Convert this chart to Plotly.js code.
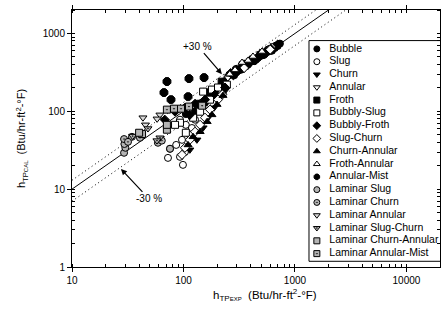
<!DOCTYPE html>
<html><head><meta charset="utf-8">
<script src="https://cdn.plot.ly/plotly-3.0.1.min.js"></script>
<style>html,body{margin:0;padding:0;background:#fff}#chart{width:441px;height:313px}</style>
</head><body><div id="chart"></div>
<script>
// ---- data ----
const seriesNames = ["Bubble","Slug","Churn","Annular","Froth","Bubbly-Slug","Bubbly-Froth","Slug-Churn","Churn-Annular","Froth-Annular","Annular-Mist","Laminar Slug","Laminar Churn","Laminar Annular","Laminar Slug-Churn","Laminar Churn-Annular","Laminar Annular-Mist"];

const bubbleX = [270,296,321,349,379,411,447,485,527,572,622,676,733,300,390,520,640,127,141,156,173,192,213,236,118,105,285,335,365,430,465,505,545,590,660,700];
const bubbleY = [300,350,340,410,400,470,460,540,530,620,600,700,740,325,420,550,660,100,111,129,150,180,205,245,85,92,290,345,380,440,495,520,580,590,650,690];
const slugX = [72.6,98.9,75.7,93,103,86,97,114,105,119,127,93,430,600];
const slugY = [25.2,20.5,33,26,30,37,43,50,67,61,78,78,470,640];
const churnX = [114,132,150,166,188,213,240,290,360,470,600,255,395];
const churnY = [32,43,61.5,82.7,111,150,190,310,370,490,610,285,405];
const annularX = [300,420,520,650,250];
const annularY = [345,460,560,700,270];
const frothX = [140,170,220,340,520];
const frothY = [125,175,240,390,560];
const bubblySlugX = [150,180,204,245,173,93,122,141,105,84];
const bubblySlugY = [179,190,202,220,141,71.3,82.7,98.8,53,67];
const bubblyFrothX = [68,84,103,127,156,192,236,114,280,330,400,480,560,700,265,310,440,610];
const bubblyFrothY = [78,99,111,125,141,164,202,90,290,360,430,500,570,720,310,330,455,630];
const slugChurnX = [97,103,114,127,141,156,173,204,223,350,600];
const slugChurnY = [27.6,34,43,54.6,67,82.7,105,141,164,360,620];
const churnAnnularX = [110,122,141,163,180,200,226,270,450,310,540];
const churnAnnularY = [37,47,54.6,73.5,90,122,159,300,480,350,570];
const frothAnnularX = [335,420,506,290,380,260];
const frothAnnularY = [423,506,587,340,450,300];
const annularMistX = [71.1,112,153,66.8,110,77.3];
const annularMistY = [241,263,271,174,154,141];
const lamSlugX = [29.3,30.1,34.5,75.7,29.5];
const lamSlugY = [29.3,34,47,33,38];
const lamChurnX = [29.3,31.8,40.7,59,63.9];
const lamChurnY = [44,40.5,45.7,39.4,42];
const lamAnnularX = [43.3,45.6,61.5,58];
const lamAnnularY = [82.7,67,90,80];
const lamSlugChurnX = [61.5,57.8,35,48];
const lamSlugChurnY = [45.7,42,48,60];
const lamChurnAnnularX = [42.5,71,71,40];
const lamChurnAnnularY = [51,58,67,53];
const lamAnnularMistX = [71,82.2,95,112,147];
const lamAnnularMistY = [105,108,108,115,118];

// reference lines y = f * x
const refX = [10, 20000];
const refFactors = [1, 1.3, 0.7];

const xTicks = [10, 100, 1000, 10000];
const yTicks = [1, 10, 100, 1000];

// ---- styling ----
const GRAY = '#b4b4b4';
const styles = [
  {symbol:'circle', color:'black'},
  {symbol:'circle', color:'white'},
  {symbol:'triangle-down', color:'black'},
  {symbol:'triangle-down', color:'white'},
  {symbol:'square', color:'black'},
  {symbol:'square', color:'white'},
  {symbol:'diamond', color:'black'},
  {symbol:'diamond', color:'white'},
  {symbol:'triangle-up', color:'black'},
  {symbol:'triangle-up', color:'white'},
  {symbol:'octagon', color:'black', size:8.5},
  {symbol:'circle', color:GRAY},
  {symbol:'circle-dot', color:GRAY},
  {symbol:'triangle-down', color:'#d8d8d8'},
  {symbol:'triangle-down-dot', color:GRAY},
  {symbol:'square', color:GRAY},
  {symbol:'square-dot', color:GRAY}
];
const seriesX = [bubbleX,slugX,churnX,annularX,frothX,bubblySlugX,bubblyFrothX,slugChurnX,churnAnnularX,frothAnnularX,annularMistX,lamSlugX,lamChurnX,lamAnnularX,lamSlugChurnX,lamChurnAnnularX,lamAnnularMistX];
const seriesY = [bubbleY,slugY,churnY,annularY,frothY,bubblySlugY,bubblyFrothY,slugChurnY,churnAnnularY,frothAnnularY,annularMistY,lamSlugY,lamChurnY,lamAnnularY,lamSlugChurnY,lamChurnAnnularY,lamAnnularMistY];

const FONT = 'Liberation Sans, Arial, sans-serif';
const traces = [];
refFactors.forEach((f,i)=>{
  traces.push({x:refX, y:refX.map(v=>v*f), mode:'lines', showlegend:false, hoverinfo:'skip',
    line:{color:'black', width:1, dash: i===0 ? 'solid' : '1px,3px'}});
});
seriesNames.forEach((n,i)=>{
  const s = styles[i];
  traces.push({x:seriesX[i], y:seriesY[i], mode:'markers', name:n, showlegend:false,
    marker:{symbol:s.symbol, color:s.color, size:s.size||7, line:{color:'black', width:1}}});
});
// hand-built legend (one sample per series) on a helper subplot
seriesNames.forEach((n,i)=>{
  const s = styles[i];
  traces.push({x:[0.6], y:[i], xaxis:'x2', yaxis:'y2', mode:'markers', showlegend:false, hoverinfo:'skip',
    marker:{symbol:s.symbol, color:s.color, size:6, line:{color:'black', width:1}}});
});
traces.push({x:seriesNames.map(()=>1.55), y:seriesNames.map((_,i)=>i), text:seriesNames, xaxis:'x2', yaxis:'y2',
  mode:'text', textposition:'middle right', showlegend:false, hoverinfo:'skip',
  textfont:{family:FONT, size:10.5, color:'black'}});

const axBase = {type:'log', showgrid:false, zeroline:false, showline:true, linecolor:'black', linewidth:1,
  ticks:'outside', ticklen:4, tickcolor:'black', tickwidth:1, mirror:'allticks',
  tickfont:{family:FONT, size:10, color:'black'},
  minor:{ticks:'inside', ticklen:3, tickcolor:'black', tickwidth:1, dtick:'D1', showgrid:false}};

const layout = {
  width:441, height:313,
  margin:{l:72, r:1, t:10, b:46},
  paper_bgcolor:'white', plot_bgcolor:'rgba(0,0,0,0)',
  showlegend:false,
  font:{family:FONT, size:10, color:'black'},
  xaxis:Object.assign({}, axBase, {range:[1, Math.log10(20000)], tickvals:xTicks, ticktext:xTicks.map(String)}),
  yaxis:Object.assign({}, axBase, {range:[0, Math.log10(2000)], tickvals:yTicks, ticktext:yTicks.map(String),
    title:{text:'h<sub>TP</sub><sub><span style="font-size:6px">CAL</span></sub>  (Btu/hr-ft<sup>2</sup>-°F)', font:{family:FONT, size:11}, standoff:14}}),
  xaxis2:{domain:[0.644,1], range:[0,10], visible:false, fixedrange:true},
  yaxis2:{domain:[0.0222,0.881], range:[16.6,-0.65], visible:false, fixedrange:true},
  shapes:[{type:'rect', xref:'paper', yref:'paper', x0:0.644, x1:1.2, y0:0.0222, y1:0.881,
    line:{color:'black', width:1}, fillcolor:'rgba(0,0,0,0)', layer:'above'}],
  annotations:[
    {xref:'paper', yref:'paper', x:(265-72)/368, y:1-(295-10.5)/256.2, showarrow:false, xanchor:'center', yanchor:'middle',
     text:'h<sub>TP</sub><sub><span style="font-size:6px">EXP</span></sub>  (Btu/hr-ft<sup>2</sup>-°F)', font:{family:FONT, size:11.5}},
    {x:Math.log10(221), y:Math.log10(300), xref:'x', yref:'y', ax:-24, ay:-28, text:'+30 %', showarrow:true,
     arrowhead:2, arrowsize:1, arrowwidth:1.2, arrowcolor:'black', font:{family:FONT, size:10}},
    {x:Math.log10(27.5), y:Math.log10(18.2), xref:'x', yref:'y', ax:28, ay:30, text:'-30 %', showarrow:true,
     arrowhead:2, arrowsize:1, arrowwidth:1.2, arrowcolor:'black', font:{family:FONT, size:10}}
  ]
};
Plotly.newPlot('chart', traces, layout, {staticPlot:true, displayModeBar:false});
</script></body></html>
